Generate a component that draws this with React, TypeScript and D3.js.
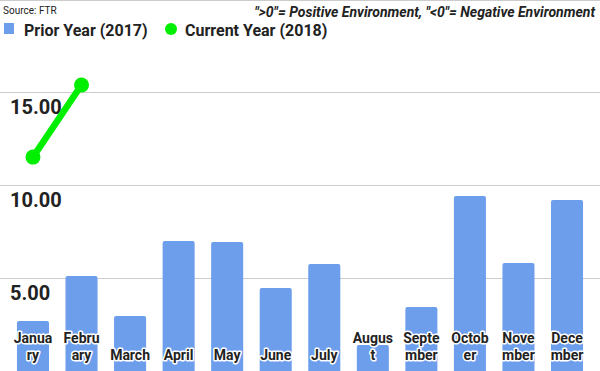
import React from "react";
import * as d3 from "d3";

const months = ["January", "February", "March", "April", "May", "June", "July", "August", "September", "October", "November", "December"];
const monthLines = [["Janua", "ry"], ["Febru", "ary"], ["March"], ["April"], ["May"], ["June"], ["July"], ["Augus", "t"], ["Septe", "mber"], ["Octob", "er"], ["Nove", "mber"], ["Dece", "mber"]];
const prior2017 = [2.69, 5.11, 2.96, 6.99, 6.94, 4.46, 5.75, 1.4, 3.44, 9.41, 5.81, 9.19];
const current2018 = [11.5, 15.38];
const yTicks = [5, 10, 15, 20];

const W = 600;
const H = 371;
const BAR = "#6d9eeb";
const GREEN = "#00ee00";
const FONT = "Roboto, sans-serif";

export default function App() {
  const x = d3.scaleBand<string>().domain(months).range([8.7, 591.3]).paddingInner(0.34).paddingOuter(0.17);
  const y = d3.scaleLinear().domain([0, 20]).range([371, -1]);
  const cx = (i: number) => (x(months[i]) as number) + x.bandwidth() / 2;
  const gy = (t: number) => Math.max(0, Math.round(y(t))) + 0.5;

  const line = d3.line<number>().x((_, i) => cx(i)).y(d => y(d));

  return (
    <div style={{ position: "fixed", left: 0, top: 0, width: W, height: H, background: "#fff" }}>
      <svg width={W} height={H} style={{ display: "block", fontFamily: FONT }}>
        {yTicks.map(t => (
          <line key={t} x1={0} x2={W} y1={gy(t)} y2={gy(t)} stroke="#cccccc" strokeWidth={1} />
        ))}
        {yTicks.filter(t => t < 20).map(t => (
          <text key={"l" + t} x={10} y={y(t) + 22} fontSize={20} fontWeight="bold" fill="#222">
            {t.toFixed(2)}
          </text>
        ))}
        {prior2017.map((v, i) => (
          <rect key={i} x={x(months[i])} y={y(v)} width={x.bandwidth()} height={y(0) - y(v) + 4} fill={BAR} rx={2} />
        ))}
        <path d={line(current2018) || ""} fill="none" stroke={GREEN} strokeWidth={6.5} />
        {current2018.map((v, i) => (
          <circle key={i} cx={cx(i)} cy={y(v)} r={7.5} fill={GREEN} />
        ))}
        {monthLines.map((ls, i) => (
          <text key={i} x={cx(i)} textAnchor="middle" fontSize={14} fontWeight="bold" fill="#222"
            stroke="#fff" strokeWidth={3} strokeLinejoin="round" style={{ paintOrder: "stroke" }}>
            {ls.map((s, j) => (
              <tspan key={j} x={cx(i)} y={360 - (ls.length - 1 - j) * 17}>{s}</tspan>
            ))}
          </text>
        ))}
        <text x={3} y={14} fontSize={10} fill="#222">Source: FTR</text>
        <text x={595} y={17} textAnchor="end" fontSize={14} fontWeight="bold" fontStyle="italic" fill="#222">
          "&gt;0"= Positive Environment, "&lt;0"= Negative Environment
        </text>
        <rect x={4} y={23} width={10} height={11} fill={BAR} />
        <text x={24} y={36} fontSize={16} fontWeight="bold" fill="#222">Prior Year (2017)</text>
        <circle cx={171} cy={29} r={6} fill={GREEN} />
        <text x={185} y={36} fontSize={16} fontWeight="bold" fill="#222">Current Year (2018)</text>
      </svg>
    </div>
  );
}
